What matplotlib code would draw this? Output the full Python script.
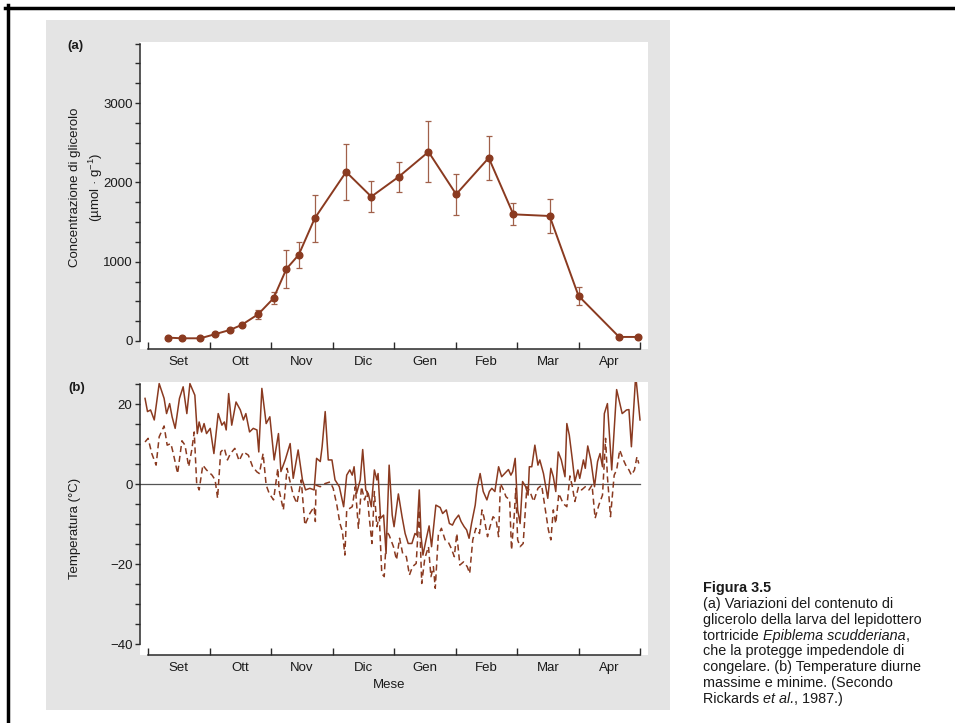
import matplotlib.pyplot as plt
import numpy as np
from matplotlib.patches import Rectangle
from matplotlib.lines import Line2D

plt.rcParams['font.family'] = ['Liberation Sans', 'DejaVu Sans']
plt.rcParams['mathtext.fontset'] = 'custom'
plt.rcParams['mathtext.rm'] = 'Liberation Sans'
plt.rcParams['mathtext.it'] = 'Liberation Sans:italic'

# asse x: mesi da inizio settembre (0 = 1 set, 8 = 1 mag)
mesi = ['Set', 'Ott', 'Nov', 'Dic', 'Gen', 'Feb', 'Mar', 'Apr']

# (a) glicerolo
mese_a = [0.33, 0.55, 0.85, 1.08, 1.33, 1.52, 1.79, 2.04, 2.25, 2.45, 2.71,
          3.22, 3.63, 4.08, 4.56, 5.01, 5.54, 5.94, 6.53, 7.00, 7.66, 7.97]
glicerolo = [42, 34, 34, 84, 139, 202, 337, 539, 910, 1087, 1547,
             2132, 1820, 2073, 2385, 1850, 2309, 1597, 1576, 569, 51, 51]
errore = [0, 0, 0, 0, 0, 0, 55, 75, 240, 165, 295,
          352, 196, 190, 384, 261, 274, 139, 215, 116, 0, 0]

# (b) temperature massime (linea continua)
mese_max = [-0.05, -0.01, 0.04, 0.10, 0.18, 0.26, 0.30, 0.35, 0.39, 0.44, 0.51,
            0.57, 0.63, 0.68, 0.76, 0.80, 0.83, 0.87, 0.91, 0.95, 1.01, 1.07,
            1.14, 1.20, 1.24, 1.27, 1.31, 1.36, 1.43, 1.50, 1.55, 1.59, 1.65,
            1.71, 1.77, 1.80, 1.85, 1.92, 1.98, 2.05, 2.12, 2.16, 2.23, 2.31,
            2.36, 2.44, 2.51, 2.56, 2.63, 2.70, 2.74, 2.80, 2.83, 2.88, 2.93,
            2.99, 3.04, 3.11, 3.18, 3.23, 3.28, 3.32, 3.35, 3.39, 3.45, 3.49,
            3.54, 3.58, 3.63, 3.68, 3.72, 3.74, 3.78, 3.83, 3.87, 3.92, 3.97,
            4.00, 4.07, 4.13, 4.18, 4.23, 4.29, 4.34, 4.37, 4.41, 4.44, 4.47,
            4.52, 4.57, 4.61, 4.68, 4.75, 4.79, 4.85, 4.90, 4.95, 4.99, 5.05,
            5.09, 5.14, 5.18, 5.22, 5.26, 5.32, 5.35, 5.40, 5.45, 5.51, 5.55,
            5.59, 5.64, 5.70, 5.75, 5.80, 5.86, 5.90, 5.93, 5.97, 6.01, 6.05,
            6.09, 6.14, 6.18, 6.20, 6.24, 6.29, 6.34, 6.37, 6.43, 6.50, 6.55,
            6.59, 6.63, 6.67, 6.72, 6.78, 6.81, 6.85, 6.90, 6.94, 6.99, 7.02,
            7.08, 7.11, 7.15, 7.20, 7.26, 7.31, 7.35, 7.39, 7.42, 7.47, 7.54,
            7.62, 7.71, 7.78, 7.82, 7.86, 7.93, 8.00]
t_max = [21.5, 18.2, 18.6, 16.1, 25.2, 21.5, 17.7, 20.2, 16.9, 14.0, 21.5,
         24.4, 17.7, 25.2, 22.3, 12.7, 15.6, 13.1, 15.2, 12.7, 14.0, 7.7,
         17.7, 14.8, 15.6, 13.6, 22.7, 14.8, 20.6, 18.6, 16.1, 17.7, 13.1,
         14.0, 13.6, 8.1, 24.0, 15.2, 16.9, 6.1, 12.7, 3.2, 6.1, 10.2,
         1.5, 8.6, 1.1, -1.4, -1.0, -1.4, 6.5, 5.7, 9.4, 18.2, 6.1,
         6.1, 1.1, -0.6, -5.6, 2.3, 3.6, 2.3, 4.4, -2.3, 1.1, 8.7,
         -1.4, -2.3, -5.6, 3.6, 1.1, 2.7, -8.5, -7.7, -17.3, 4.8, -7.7,
         -10.6, -2.4, -8.1, -12.3, -14.8, -14.8, -12.3, -12.7, -1.4, -13.1, -17.7,
         -13.9, -10.4, -15.6, -5.2, -5.8, -7.3, -6.4, -9.8, -10.2, -8.9, -7.7,
         -9.3, -10.6, -11.4, -13.5, -9.8, -5.2, -1.0, 2.7, -1.8, -3.9, -1.8,
         -1.0, -1.8, 4.4, 1.9, 2.7, 3.7, 2.3, 3.2, 6.5, -6.4, -9.8,
         0.7, -0.6, -2.7, 4.4, 4.4, 9.8, 4.8, 6.1, 2.7, -3.5, 4.0,
         1.9, -1.8, 8.1, 6.1, 1.9, 15.2, 12.3, 6.1, 0.7, 3.6, 1.5,
         6.1, 4.0, 9.6, 6.1, -0.6, 5.7, 7.7, 4.4, 17.7, 20.2, 3.6,
         23.7, 17.7, 18.6, 18.7, 9.4, 27.3, 16.1]

# (b) temperature minime (linea tratteggiata)
mese_min = [-0.05, 0.00, 0.06, 0.13, 0.18, 0.26, 0.31, 0.37, 0.41, 0.48, 0.55,
            0.60, 0.66, 0.71, 0.75, 0.79, 0.83, 0.89, 0.95, 1.04, 1.09, 1.13,
            1.18, 1.24, 1.29, 1.34, 1.41, 1.48, 1.55, 1.63, 1.70, 1.77, 1.81,
            1.87, 1.92, 1.97, 2.04, 2.11, 2.13, 2.20, 2.26, 2.29, 2.36, 2.42,
            2.49, 2.55, 2.63, 2.70, 2.72, 2.73, 2.80, 2.88, 2.96, 3.01, 3.07,
            3.12, 3.16, 3.20, 3.23, 3.28, 3.32, 3.37, 3.42, 3.47, 3.52, 3.56,
            3.59, 3.64, 3.68, 3.72, 3.76, 3.80, 3.84, 3.88, 3.92, 3.99, 4.04,
            4.09, 4.14, 4.20, 4.25, 4.30, 4.36, 4.41, 4.45, 4.50, 4.56, 4.60,
            4.64, 4.67, 4.72, 4.77, 4.83, 4.88, 4.93, 4.98, 5.02, 5.07, 5.13,
            5.19, 5.23, 5.28, 5.33, 5.39, 5.43, 5.46, 5.52, 5.56, 5.61, 5.66,
            5.70, 5.73, 5.78, 5.82, 5.88, 5.91, 5.95, 5.98, 6.01, 6.05, 6.10,
            6.16, 6.21, 6.27, 6.34, 6.40, 6.46, 6.51, 6.55, 6.59, 6.63, 6.68,
            6.75, 6.81, 6.86, 6.90, 6.94, 7.00, 7.05, 7.11, 7.17, 7.22, 7.27,
            7.33, 7.39, 7.44, 7.47, 7.52, 7.58, 7.62, 7.67, 7.73, 7.78, 7.82,
            7.86, 7.91, 7.95, 7.98]
t_min = [10.6, 11.5, 7.7, 4.8, 11.9, 14.6, 9.8, 10.2, 7.7, 2.7, 10.9,
         9.8, 4.4, 8.6, 13.1, 0.2, -1.4, 4.8, 3.6, 2.3, 1.1, -3.5,
         8.1, 9.0, 6.1, 7.7, 9.0, 5.9, 8.1, 7.3, 4.4, 3.1, 2.7,
         7.7, -0.2, -2.3, -3.9, 4.0, -1.4, -6.4, 4.0, 1.9, -2.7, -4.8,
         1.1, -10.2, -7.3, -5.6, -9.3, -0.2, -0.6, 0.2, 0.6, -1.0, -5.2,
         -9.8, -11.8, -17.7, -6.4, -6.0, -5.6, -0.6, -11.0, -0.6, -3.9, -1.8,
         -7.3, -14.8, -1.8, -10.6, -8.1, -22.3, -23.1, -11.8, -12.7, -15.6, -18.9,
         -13.5, -17.3, -18.1, -22.7, -20.6, -19.8, -6.4, -24.8, -18.5, -15.6, -23.1,
         -20.6, -26.0, -12.7, -11.0, -13.9, -14.4, -16.0, -18.1, -12.3, -20.2, -19.4,
         -20.6, -22.3, -13.9, -11.0, -12.3, -6.4, -8.1, -13.1, -10.6, -8.1, -8.9,
         -13.1, 0.2, -1.4, -3.1, -3.9, -16.4, -8.9, -1.0, -13.9, -15.6, -14.8,
         -0.6, -1.8, -4.3, -1.0, -0.2, -6.4, -11.4, -13.9, -6.4, -9.8, -2.3,
         -4.8, -5.6, 2.1, -0.6, -4.3, -0.6, -1.4, -0.6, -1.4, -0.2, -8.5,
         -5.2, -2.7, 11.5, 1.9, -8.1, 2.3, 3.6, 8.6, 6.1, 4.4, 3.6,
         2.3, 3.6, 6.9, 5.2]

# didascalia: ogni riga e' una lista di (testo, corsivo)
didascalia = [
    [("(a) Variazioni del contenuto di", False)],
    [("glicerolo della larva del lepidottero", False)],
    [("tortricide ", False), ("Epiblema scudderiana", True), (",", False)],
    [("che la protegge impedendole di", False)],
    [("congelare. (b) Temperature diurne", False)],
    [("massime e minime. (Secondo", False)],
    [("Rickards ", False), ("et al.", True), (", 1987.)", False)],
]

BROWN = '#8a3a20'
ERRC = '#a0604a'
W, H = 955, 723


def box(x0, y0, x1, y1):
    return [x0 / W, 1 - y1 / H, (x1 - x0) / W, (y1 - y0) / H]


fig = plt.figure(figsize=(9.55, 7.23), dpi=100)
fig.patch.set_facecolor('white')

# sfondo grigio della pagina scansionata
fig.patches.append(Rectangle((46 / W, 1 - 710 / H), (670 - 46) / W, (710 - 20) / H,
                             transform=fig.transFigure, facecolor='#e4e4e4',
                             edgecolor='none', zorder=-10))
# cornice nera
fig.lines.append(Line2D([5 / W, 1], [1 - 7.5 / H, 1 - 7.5 / H], transform=fig.transFigure,
                        color='black', lw=2.5))
fig.lines.append(Line2D([7.5 / W, 7.5 / W], [0, 1 - 5 / H], transform=fig.transFigure,
                        color='black', lw=2.5))

axa = fig.add_axes(box(139.5, 42, 648, 349))
axb = fig.add_axes(box(139.5, 382, 648, 655))


def style(ax):
    ax.set_xlim(-0.14, 8.13)
    for s in ['top', 'right']:
        ax.spines[s].set_visible(False)
    for s in ['left', 'bottom']:
        ax.spines[s].set_color('#2a2a2a')
        ax.spines[s].set_linewidth(1.1)
    ax.spines['bottom'].set_bounds(0, 8)
    ax.set_xticks(range(9))
    ax.set_xticklabels([''] * 9)
    ax.set_xticks(np.arange(8) + 0.5, minor=True)
    ax.set_xticklabels(mesi, minor=True)
    ax.tick_params(axis='x', which='major', direction='in', length=5, width=1.0, color='#2a2a2a')
    ax.tick_params(axis='x', which='minor', length=0, pad=5, labelsize=9.5, labelcolor='#1a1a1a')
    ax.tick_params(axis='y', direction='out', length=3.5, width=1.0, pad=1.5,
                   labelsize=9.5, labelcolor='#1a1a1a', color='#2a2a2a')


# --- (a)
style(axa)
axa.set_ylim(-101, 3770)
axa.spines['left'].set_bounds(0, 3750)
yt = np.arange(0, 3751, 250)
axa.set_yticks(yt)
axa.set_yticklabels([str(t) if t % 1000 == 0 else '' for t in yt])
ma = np.array(mese_a)
ga = np.array(glicerolo)
ea = np.array(errore)
k = ea > 0
axa.errorbar(ma[k], ga[k], yerr=ea[k], fmt='none', ecolor=ERRC, elinewidth=0.9,
             capsize=2.5, capthick=0.9, zorder=2)
axa.plot(ma, ga, '-o', color=BROWN, lw=1.4, ms=4.8, zorder=3)

# --- (b)
style(axb)
axb.set_ylim(-42.7, 25.6)
axb.spines['left'].set_bounds(-40, 25)
yt = np.arange(-40, 26, 5)
axb.set_yticks(yt)
axb.set_yticklabels([str(t).replace('-', '\u2212') if t % 20 == 0 else '' for t in yt])
axb.plot([-0.14, 8.0], [0, 0], color='#555555', lw=0.9, zorder=1)
axb.plot(mese_max, t_max, '-', color=BROWN, lw=1.1, zorder=3)
axb.plot(mese_min, t_min, '--', color=BROWN, lw=1.1, dashes=(4, 2.5), zorder=3)

# testi
fig.text(75 / W, 1 - 187 / H, 'Concentrazione di glicerolo', rotation=90,
         ha='center', va='center', fontsize=9.5, color='#1a1a1a')
fig.text(96 / W, 1 - 187 / H, r'(µmol · g$^{-1}$)', rotation=90,
         ha='center', va='center', fontsize=9.5, color='#1a1a1a')
fig.text(75 / W, 1 - 528 / H, 'Temperatura (°C)', rotation=90,
         ha='center', va='center', fontsize=9.5, color='#1a1a1a')
fig.text(389 / W, 1 - 685 / H, 'Mese', ha='center', va='center', fontsize=9.5, color='#1a1a1a')
fig.text(75 / W, 1 - 46 / H, '(a)', ha='center', va='center', fontsize=9.5,
         fontweight='bold', color='#1a1a1a')
fig.text(77 / W, 1 - 388 / H, '(b)', ha='center', va='center', fontsize=9.5,
         fontweight='bold', color='#1a1a1a')

fig.text(703 / W, 1 - 588 / H, 'Figura 3.5', ha='left', va='center', fontsize=10.4,
         fontweight='bold', color='#1a1a1a')
renderer = fig.canvas.get_renderer()
for i, riga in enumerate(didascalia):
    x = 703.0
    y = 1 - (604 + 15.8 * i) / H
    for pezzo, corsivo in riga:
        t = fig.text(x / W, y, pezzo, ha='left', va='center', fontsize=10.4,
                     color='#1a1a1a', style='italic' if corsivo else 'normal')
        x += t.get_window_extent(renderer).width

fig.savefig('out.png', dpi=100)
